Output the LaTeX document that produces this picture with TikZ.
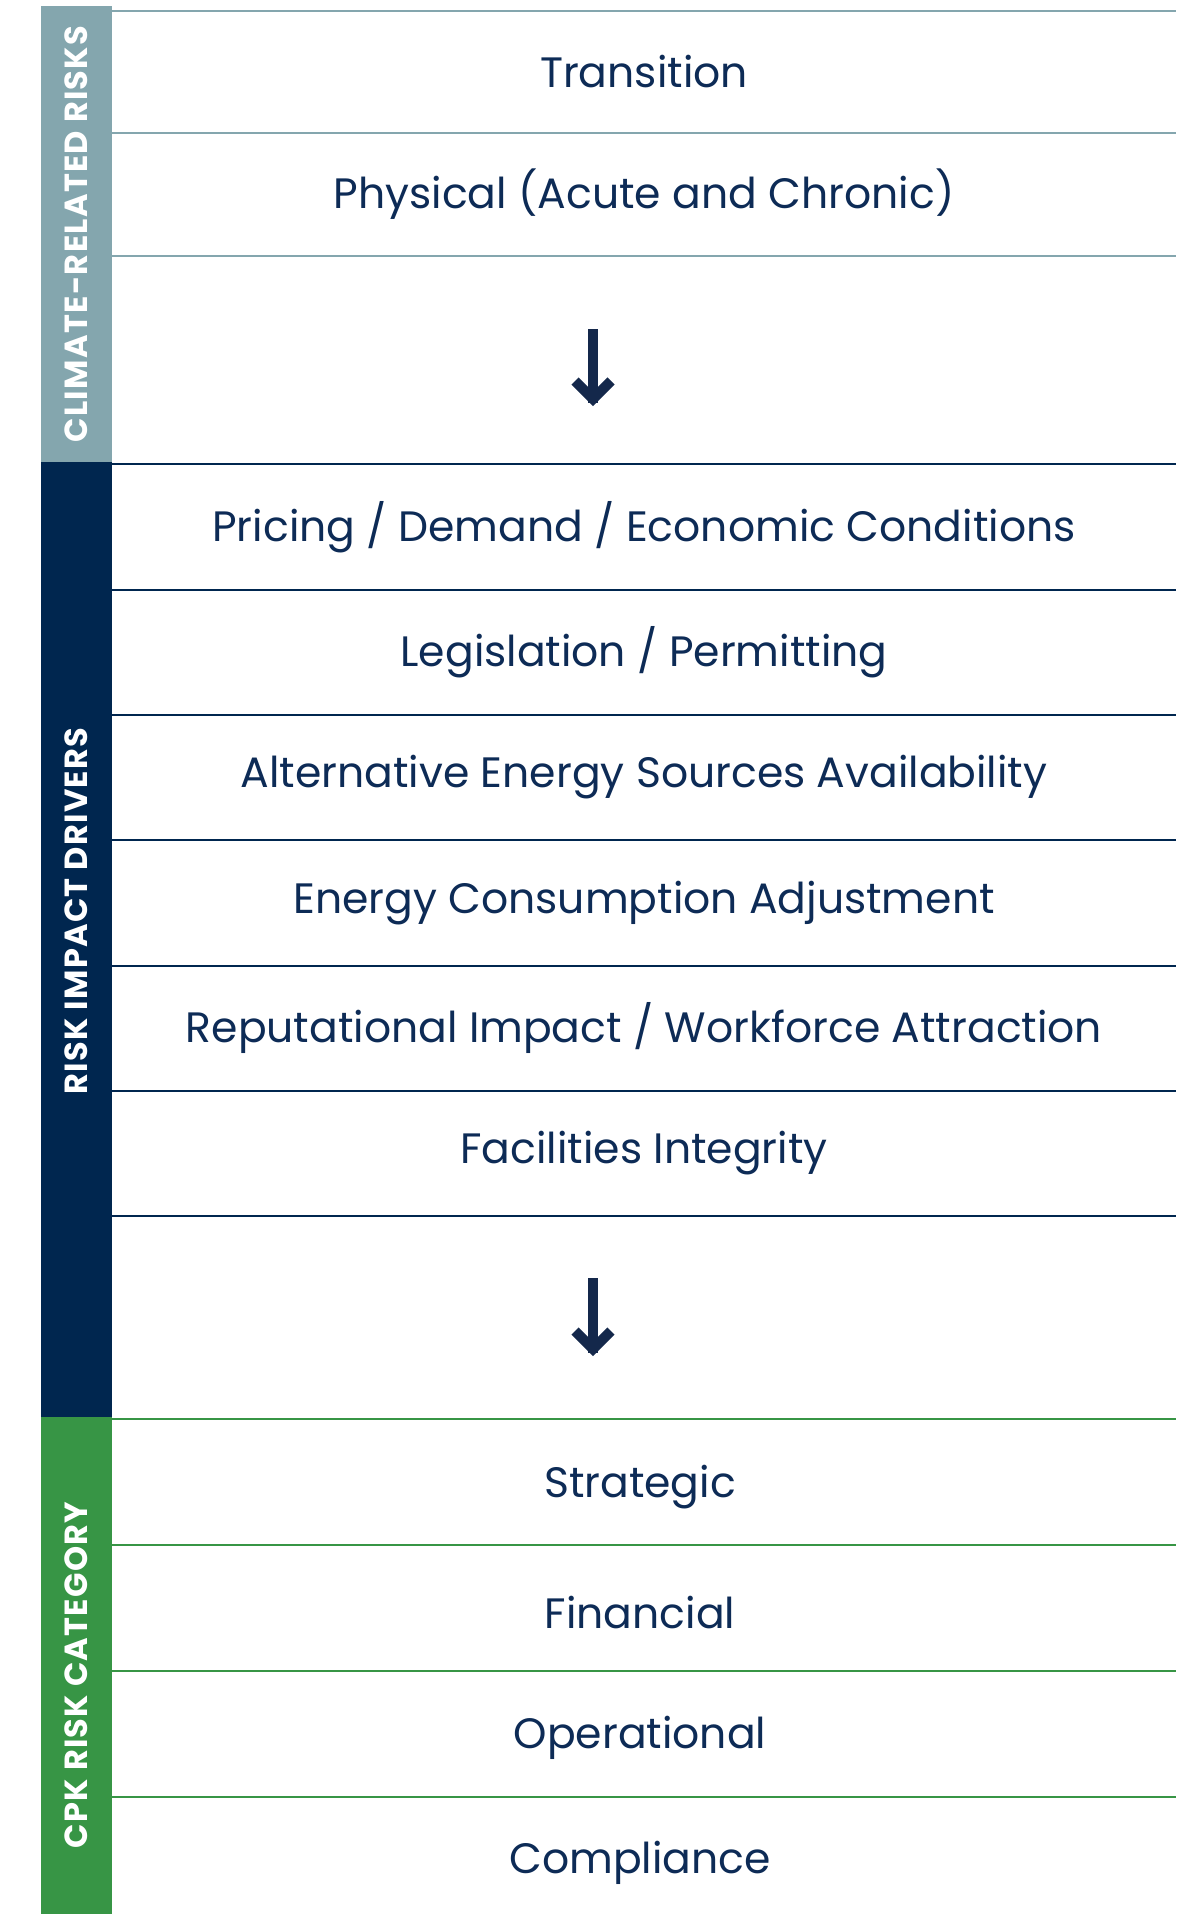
\documentclass[tikz,border=0pt]{standalone}
\usepackage{fontspec}
\setmainfont{Poppins}
\newfontfamily\bandfont[LetterSpace=4]{Poppins Bold}
\definecolor{riskgray}{HTML}{84A6AE}
\definecolor{risknavy}{HTML}{00264F}
\definecolor{riskgreen}{HTML}{379545}
\definecolor{textnavy}{HTML}{0D2B56}
\definecolor{arrownavy}{HTML}{14284B}
\begin{document}
\begin{tikzpicture}[x=1pt,y=-1pt,
		item/.style={text=textnavy,font=\fontsize{42.5}{50}\selectfont},
		band/.style={text=white,font=\bandfont\fontsize{32}{40}\selectfont,rotate=90},
		sep/.style={line width=2pt},
		shaft/.style={arrownavy,line width=10.5pt},
		barb/.style={arrownavy,line width=10pt,miter limit=10,line join=miter}]
	\useasboundingbox (0,0) rectangle (1189,1914);
	% bandes de gauche
	\fill[riskgray] (41,6) rectangle (112,462);
	\fill[risknavy] (41,462) rectangle (112,1417);
	\fill[riskgreen] (41,1417) rectangle (112,1914);
	\node[band] (climat) at (76,234) {CLIMATE-RELATED RISKS};
	\node[band] (drivers) at (76,911) {RISK IMPACT DRIVERS};
	\node[band] (categ) at (76,1675) {CPK RISK CATEGORY};
	% traits de separation
	\foreach \y in {10.5,133,256} \draw[sep,riskgray] (112,\y)--(1176,\y);
	\foreach \y in {464,589.5,715,840,966,1091,1216} \draw[sep,risknavy] (112,\y)--(1176,\y);
	\foreach \y in {1418.5,1545,1671,1797} \draw[sep,riskgreen] (112,\y)--(1176,\y);
	% textes
	\node[item] (trans) at (644,72) {Transition};
	\node[item] (phys) at (644,194) {Physical (Acute and Chronic)};
	\foreach \y/\t [count=\i] in {527/{Pricing / Demand / Economic Conditions},652/{Legislation / Permitting},777/{Alternative Energy Sources Availability},903/{Energy Consumption Adjustment},1028/{Reputational Impact / Workforce Attraction},1153/{Facilities Integrity}}
		\node[item] (drv\i) at (644,\y) {\t};
	\foreach \y/\t [count=\i] in {1487/Strategic,1612/Financial,1738/Operational,1863/Compliance}
		\node[item] (cat\i) at (640,\y) {\t};
	% fleches
	\coordinate (a1) at (593,329); \coordinate (a1b) at (593,399);
	\coordinate (a2) at (593,1278); \coordinate (a2b) at (593,1349);
	\draw[shaft] (a1)--([yshift=-4pt]a1b);
	\draw[barb] ([shift={(-18,-18)}]a1b)--(a1b)--([shift={(18,-18)}]a1b);
	\draw[shaft] (a2)--([yshift=-4pt]a2b);
	\draw[barb] ([shift={(-18,-18)}]a2b)--(a2b)--([shift={(18,-18)}]a2b);
\end{tikzpicture}
\end{document}
